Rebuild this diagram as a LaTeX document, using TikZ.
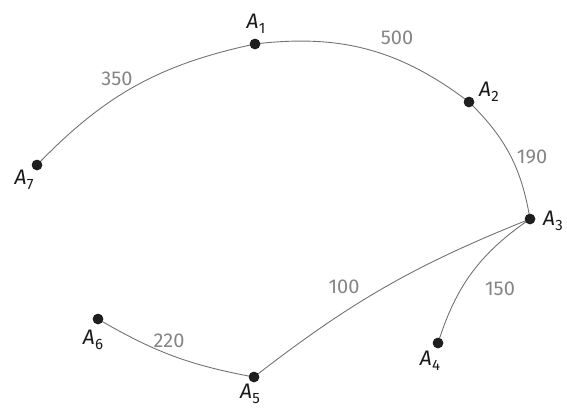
\documentclass[tikz,border=0pt]{standalone}
\usepackage{fontspec}
\setmainfont{Fira Sans}
\newcommand\vlbl[1]{\textit{A}\kern0.3pt\raisebox{-0.45ex}{\fontsize{15}{15}\selectfont #1}}
\begin{document}
\begin{tikzpicture}[x=1pt,y=-1pt,
  vtx/.style={circle,fill=black!88,inner sep=0pt,minimum size=10.5pt},
  edge/.style={draw=black!55,line width=0.9pt},
  wt/.style={text=black!48,font=\fontsize{20}{20}\selectfont,inner sep=0pt},
  vname/.style={text=black!90,font=\fontsize{21}{21}\selectfont,inner sep=0pt}]
\useasboundingbox (0,0) rectangle (567,408);
\node[vtx] (a1) at (255,44) {};
\node[vtx] (a2) at (469,102) {};
\node[vtx] (a3) at (530,219) {};
\node[vtx] (a4) at (438,343) {};
\node[vtx] (a5) at (254,377) {};
\node[vtx] (a6) at (98,319) {};
\node[vtx] (a7) at (37,165) {};
\draw[edge] (a7.center) to[bend left=17] (a1.center);
\draw[edge] (a1.center) to[bend left=22] (a2.center);
\draw[edge] (a2.center) to[bend left=18] (a3.center);
\draw[edge] (a3.center) to[bend right=8] (a5.center);
\draw[edge] (a3.center) to[bend right=19] (a4.center);
\draw[edge] (a5.center) to[bend left=10] (a6.center);
\foreach \n in {a1,a2,a3,a4,a5,a6,a7} \node[vtx] at (\n) {};
\node[vname] (l1) at (256,24) {\vlbl{1}};
\node[vname] (l2) at (489,92) {\vlbl{2}};
\node[vname] (l3) at (553,221) {\vlbl{3}};
\node[vname] (l4) at (430,361) {\vlbl{4}};
\node[vname] (l5) at (250,394) {\vlbl{5}};
\node[vname] (l6) at (93,340) {\vlbl{6}};
\node[vname] (l7) at (24,180) {\vlbl{7}};
\node[wt] (w1) at (117,79) {350};
\node[wt] (w2) at (397,38) {500};
\node[wt] (w3) at (532,157) {190};
\node[wt] (w4) at (344,287) {100};
\node[wt] (w5) at (500,289) {150};
\node[wt] (w6) at (169,341) {220};
\end{tikzpicture}
\end{document}
